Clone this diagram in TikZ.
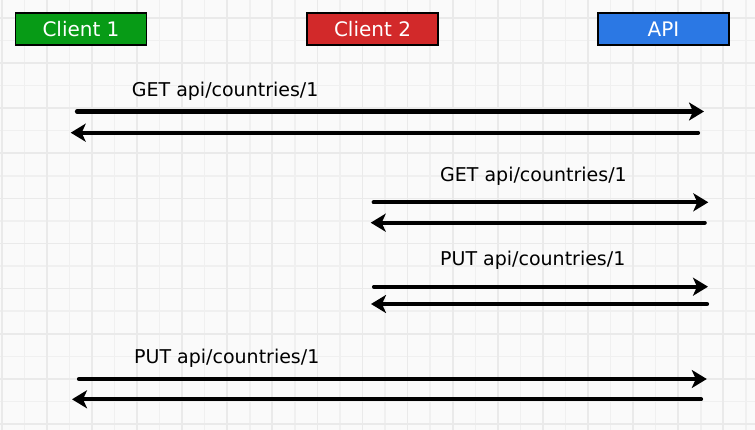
\documentclass[tikz,border=0pt]{standalone}
\usepackage{fontspec}
\setmainfont{DejaVu Sans}
\usetikzlibrary{arrows.meta}
\definecolor{paper}{HTML}{FAFAFA}
\definecolor{gridminor}{HTML}{F0F0F0}
\definecolor{gridmajor}{HTML}{EAEAEA}
\definecolor{clientgreen}{HTML}{079B16}
\definecolor{clientred}{HTML}{D2292A}
\definecolor{apiblue}{HTML}{2B78E4}
\tikzset{
  actor/.style={draw=black, line width=1.8pt, minimum width=131pt, minimum height=32pt, inner sep=0pt, text=white, font=\fontsize{20}{24}\selectfont},
  call/.style={inner sep=0pt, anchor=base west, font=\fontsize{19}{23}\selectfont},
  msg/.style={line width=4.2pt, line cap=round, -{Stealth[length=15pt,width=18pt,inset=4pt]}},
}

\begin{document}
\begin{tikzpicture}[x=1pt,y=1pt,yscale=-1,xscale=1]
\useasboundingbox (0,0) rectangle (755,430);

%Shape: Background with grid
\fill [paper] (0,0) rectangle (755,430);
\foreach \k in {0,...,33} {
  \draw [gridminor, line width=1.5pt] (1.7+22.55*\k,0) -- (1.7+22.55*\k,430);
}
\foreach \k in {0,...,18} {
  \draw [gridminor, line width=1.5pt] (0,18+22.55*\k) -- (755,18+22.55*\k);
}
\foreach \k in {0,2,...,32} {
  \draw [gridmajor, line width=1.7pt] (1.7+22.55*\k,0) -- (1.7+22.55*\k,430);
}
\foreach \k in {0,2,...,18} {
  \draw [gridmajor, line width=1.7pt] (0,18+22.55*\k) -- (755,18+22.55*\k);
}

%Shape: Rectangle
\draw (81,29.3) node [actor, fill=clientgreen] (client1) {Client 1};
%Shape: Rectangle
\draw (372.5,29.3) node [actor, fill=clientred] (client2) {Client 2};
%Shape: Rectangle
\draw (663.5,29.3) node [actor, fill=apiblue] (api) {API};

% Text Node
\draw (131.7,96.7) node [call] (get1) {GET api/countries/1};
% Text Node
\draw (440,181.7) node [call] (get2) {GET api/countries/1};
% Text Node
\draw (440,266) node [call] (put2) {PUT api/countries/1};
% Text Node
\draw (134,363.3) node [call] (put1) {PUT api/countries/1};

%Straight Lines: Client 1 GET
\coordinate (get1go) at (77,111.5);
\coordinate (get1in) at (704,111.5);
\coordinate (get1back) at (698,132.7);
\coordinate (get1out) at (70.7,132.7);
\draw [msg] (get1go) -- (get1in);
\draw [msg] (get1back) -- (get1out);

%Straight Lines: Client 2 GET
\coordinate (get2go) at (373.7,202.3);
\coordinate (get2in) at (708.3,202.3);
\coordinate (get2back) at (704.7,222.7);
\coordinate (get2out) at (370.7,222.7);
\draw [msg] (get2go) -- (get2in);
\draw [msg] (get2back) -- (get2out);

%Straight Lines: Client 2 PUT
\coordinate (put2go) at (374,286.7);
\coordinate (put2in) at (708,286.7);
\coordinate (put2back) at (707,304);
\coordinate (put2out) at (371,304);
\draw [msg] (put2go) -- (put2in);
\draw [msg] (put2back) -- (put2out);

%Straight Lines: Client 1 PUT
\coordinate (put1go) at (79,379);
\coordinate (put1in) at (706.8,379);
\coordinate (put1back) at (701,399.3);
\coordinate (put1out) at (72,399.3);
\draw [msg] (put1go) -- (put1in);
\draw [msg] (put1back) -- (put1out);

\end{tikzpicture}
\end{document}
